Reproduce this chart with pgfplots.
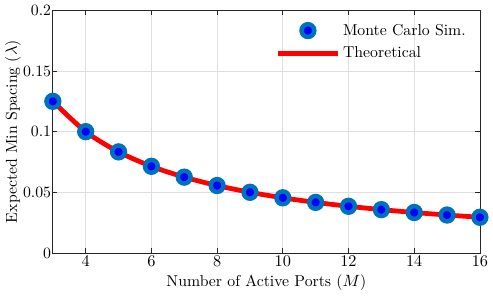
\documentclass[border=0pt]{standalone}
\usepackage{pgfplots}
\pgfplotsset{compat=1.18}
\definecolor{mblue}{RGB}{0,114,189}
\newcommand{\fs}{\fontsize{10.6}{12.7}\selectfont}
\begin{document}
\begin{tikzpicture}
\begin{axis}[
  scale only axis,
  width=287pt, height=163pt,
  xmin=3, xmax=16, ymin=0, ymax=0.2,
  xtick={4,6,...,16},
  ytick={0,0.05,0.1,0.15,0.2},
  yticklabels={0,0.05,0.1,0.15,0.2},
  scaled y ticks=false,
  grid=major,
  grid style={gray!25, line width=0.5pt},
  axis line style={black!85, line width=0.5pt},
  tick style={black!85, line width=0.5pt},
  major tick length=3pt,
  tick align=inside,
  tick label style={font=\fs},
  label style={font=\fs},
  yticklabel style={inner xsep=1pt},
  xticklabel style={inner ysep=2pt},
  xlabel={Number of Active Ports ($M$)},
  ylabel={Expected Min Spacing ($\lambda$)},
  xlabel style={yshift=0pt},
  ylabel style={yshift=-3pt},
  legend style={draw=none, fill=none, at={(0.985,0.97)}, anchor=north east, row sep=2.5pt, font=\fs},
  legend cell align=left,
  legend image code/.code={\draw[mark repeat=2,mark phase=2] plot coordinates {(0pt,0pt) (20pt,0pt) (40pt,0pt)};},
]
\addplot[only marks, mark=*, mark size=4.3pt, mark options={draw=mblue, fill=blue, line width=3pt}] coordinates {
(3,0.125) (4,0.1) (5,0.08333) (6,0.07143) (7,0.0625) (8,0.05556) (9,0.05) (10,0.04545) (11,0.04167) (12,0.03846) (13,0.03571) (14,0.03333) (15,0.03125) (16,0.02941)
};
\addlegendentry{Monte Carlo Sim.}
\addplot[red, line width=3.2pt, smooth, no marks] coordinates {
(3,0.125) (4,0.1) (5,0.08333) (6,0.07143) (7,0.0625) (8,0.05556) (9,0.05) (10,0.04545) (11,0.04167) (12,0.03846) (13,0.03571) (14,0.03333) (15,0.03125) (16,0.02941)
};
\addlegendentry{Theoretical}
\end{axis}
\end{tikzpicture}
\end{document}
